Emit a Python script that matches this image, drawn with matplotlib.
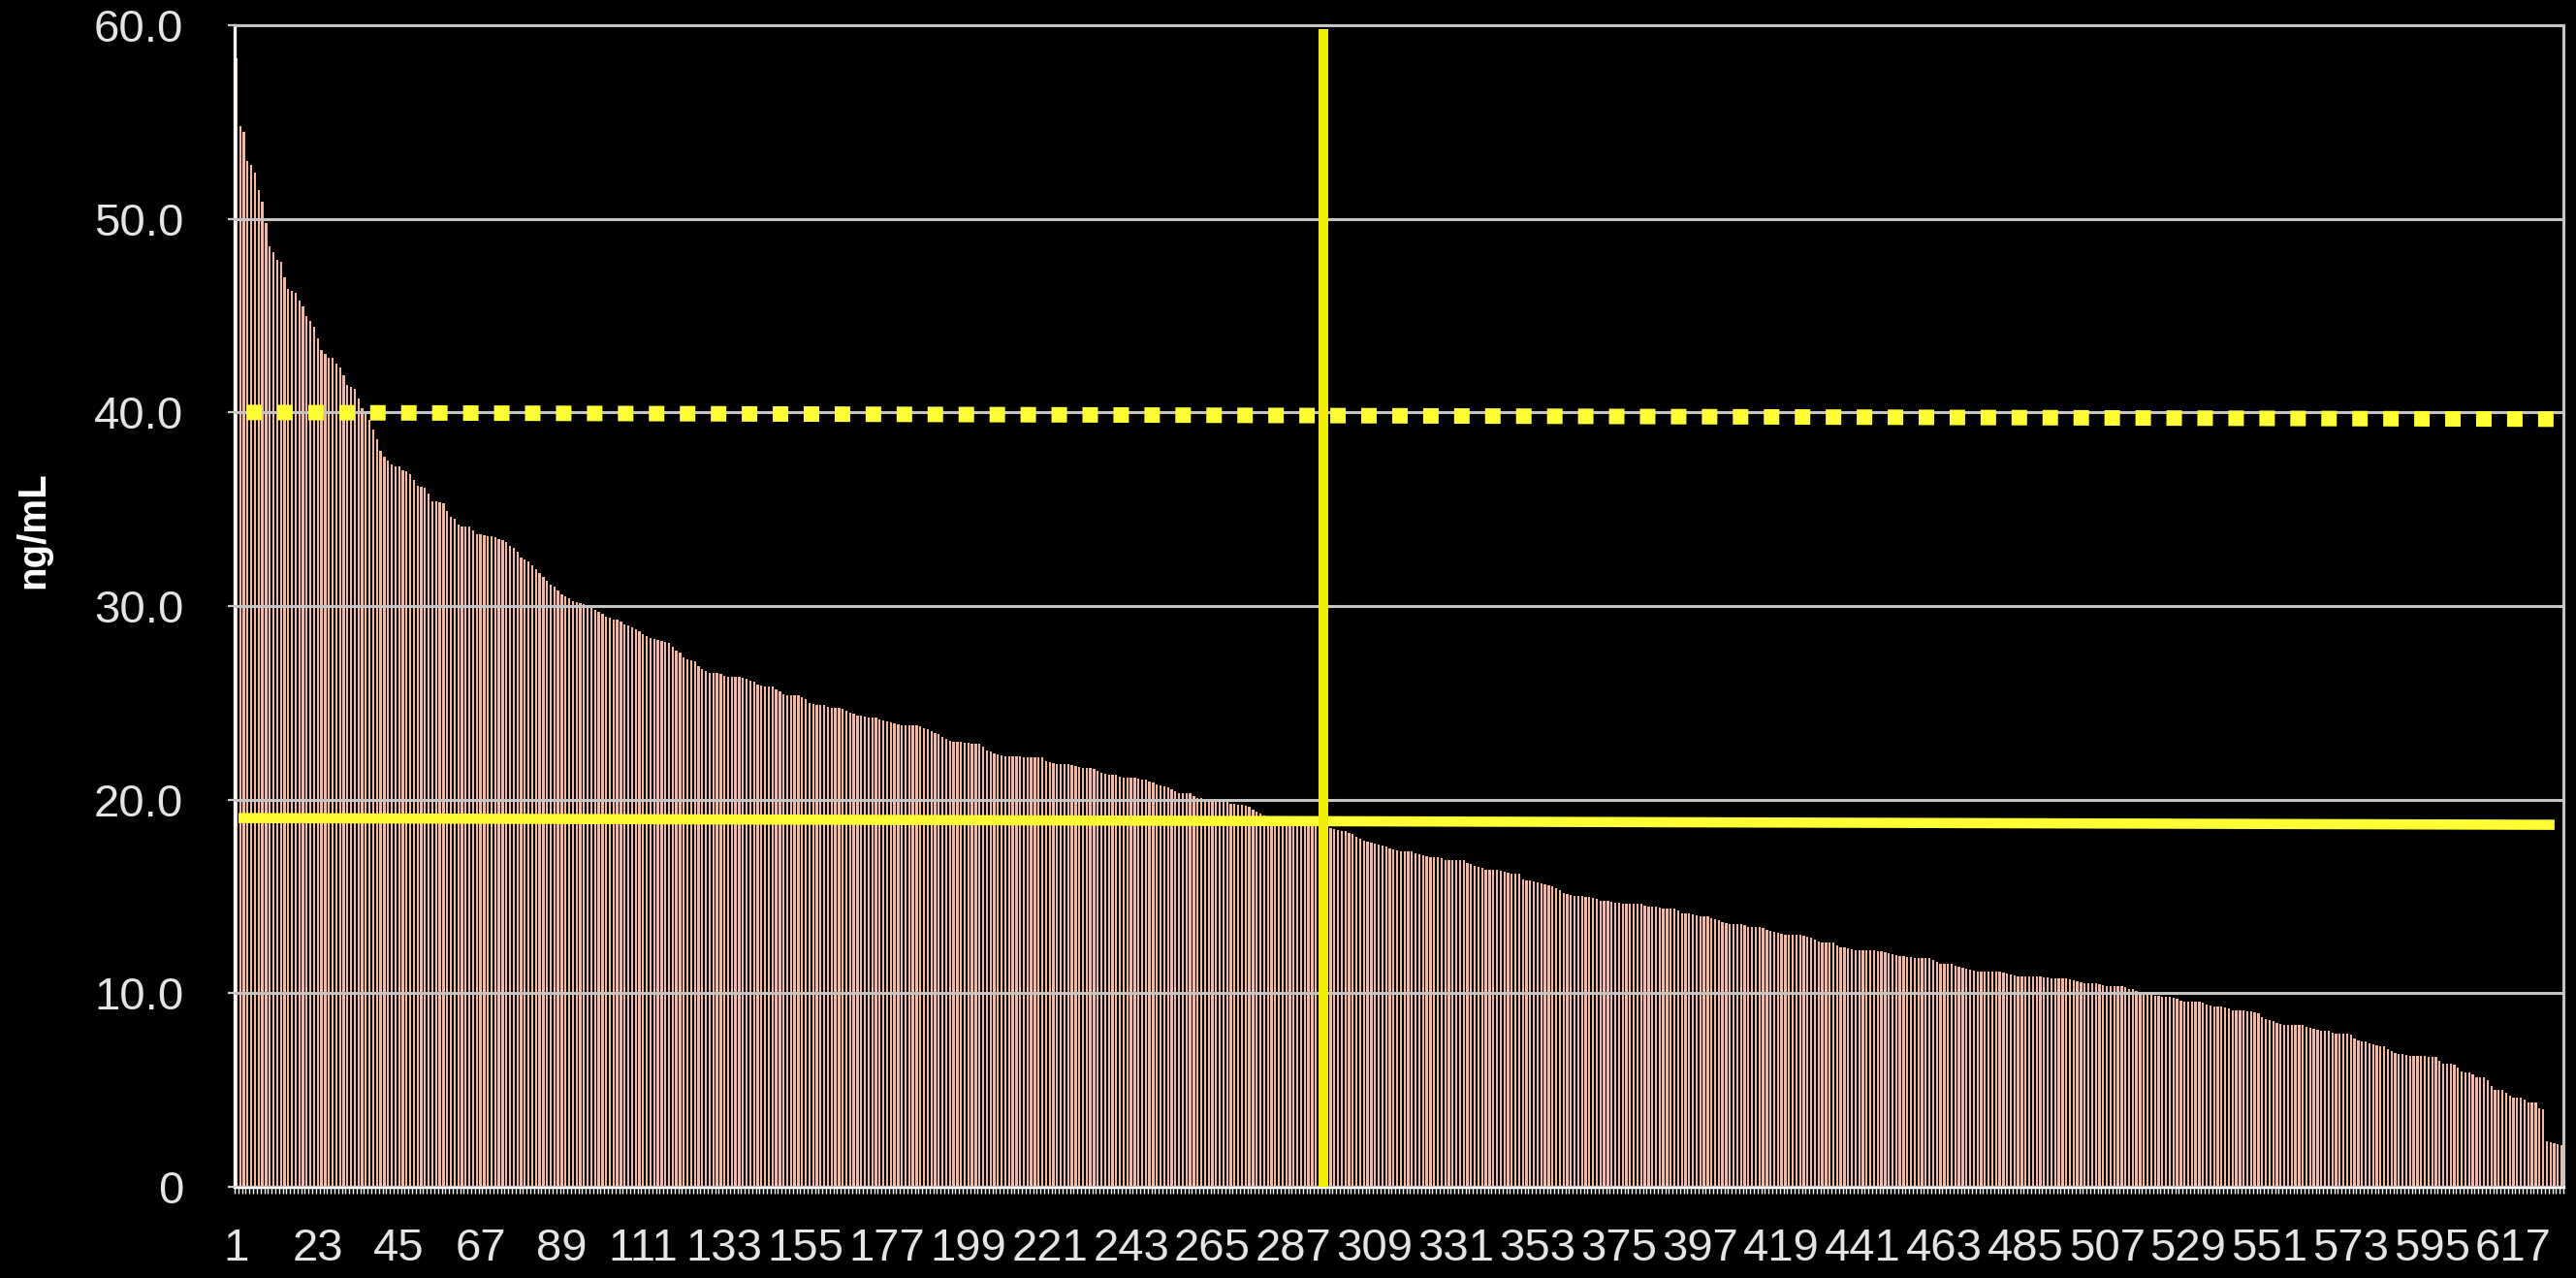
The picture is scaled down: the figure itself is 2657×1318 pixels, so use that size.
import numpy as np
import matplotlib.pyplot as plt

plt.rcParams['font.family'] = ['Liberation Sans', 'DejaVu Sans']

# concentration per sample, sorted high to low
ng_ml = [
    58.3, 54.8, 54.5, 53.0, 52.8, 52.4, 51.5, 50.9, 49.8, 48.6,
    48.3, 47.9, 47.8, 47.0, 46.4, 46.3, 46.2, 45.8, 45.5, 45.0,
    44.7, 44.4, 43.8, 43.2, 43.0, 42.8, 42.8, 42.5, 42.3, 41.9,
    41.4, 41.3, 41.2, 40.7, 40.2, 39.9, 39.6, 39.1, 38.6, 38.0,
    37.7, 37.5, 37.3, 37.2, 37.2, 37.0, 36.96, 36.8, 36.5, 36.2,
    36.15, 36.1, 35.8, 35.4, 35.4, 35.35, 35.3, 34.9, 34.6, 34.5,
    34.2, 34.1, 34.1, 34.1, 33.9, 33.7, 33.7, 33.65, 33.6, 33.6,
    33.55, 33.45, 33.4, 33.3, 33.1, 33.0, 32.8, 32.5, 32.4, 32.3,
    32.1, 31.9, 31.7, 31.5, 31.3, 31.1, 31.0, 30.8, 30.6, 30.5,
    30.4, 30.25, 30.2, 30.15, 30.1, 30.0, 29.96, 29.8, 29.7, 29.6,
    29.45, 29.4, 29.3, 29.28, 29.2, 29.07, 29.0, 28.9, 28.8, 28.7,
    28.54, 28.45, 28.37, 28.3, 28.25, 28.2, 28.15, 28.1, 27.9, 27.7,
    27.6, 27.35, 27.27, 27.2, 27.16, 26.9, 26.74, 26.62, 26.55, 26.52,
    26.52, 26.5, 26.4, 26.35, 26.35, 26.33, 26.32, 26.28, 26.24, 26.15,
    26.07, 25.96, 25.9, 25.82, 25.82, 25.82, 25.7, 25.57, 25.45, 25.4,
    25.4, 25.4, 25.4, 25.3, 25.2, 25.0, 24.95, 24.9, 24.9, 24.9,
    24.8, 24.74, 24.74, 24.74, 24.7, 24.6, 24.49, 24.42, 24.36, 24.35,
    24.28, 24.24, 24.24, 24.24, 24.15, 24.07, 24.05, 23.98, 23.94, 23.88,
    23.82, 23.82, 23.82, 23.82, 23.82, 23.8, 23.7, 23.65, 23.54, 23.45,
    23.4, 23.25, 23.16, 23.05, 22.99, 22.99, 22.99, 22.95, 22.92, 22.9,
    22.9, 22.88, 22.73, 22.55, 22.48, 22.4, 22.35, 22.28, 22.23, 22.23,
    22.23, 22.22, 22.22, 22.21, 22.21, 22.2, 22.2, 22.19, 22.18, 21.98,
    21.95, 21.9, 21.84, 21.82, 21.82, 21.82, 21.81, 21.75, 21.7, 21.65,
    21.65, 21.64, 21.6, 21.5, 21.4, 21.32, 21.27, 21.27, 21.27, 21.2,
    21.15, 21.12, 21.12, 21.12, 21.08, 21.03, 21.02, 20.95, 20.9, 20.8,
    20.73, 20.7, 20.62, 20.55, 20.45, 20.35, 20.35, 20.35, 20.34, 20.2,
    20.06, 20.06, 20.05, 20.05, 20.04, 20.04, 20.03, 20.02, 19.9, 19.78,
    19.76, 19.74, 19.72, 19.68, 19.65, 19.5, 19.4, 19.3, 19.2, 19.15,
    19.15, 19.14, 19.14, 19.13, 19.05, 19.0, 18.95, 18.9, 18.88, 18.85,
    18.82, 18.8, 18.75, 18.7, 18.65, 18.6, 18.55, 18.48, 18.45, 18.38,
    18.36, 18.3, 18.23, 18.1, 17.98, 17.9, 17.83, 17.8, 17.75, 17.69,
    17.64, 17.59, 17.5, 17.42, 17.39, 17.33, 17.31, 17.31, 17.31, 17.22,
    17.16, 17.14, 17.08, 17.03, 17.03, 17.03, 16.96, 16.9, 16.89, 16.89,
    16.89, 16.88, 16.87, 16.75, 16.66, 16.6, 16.52, 16.47, 16.4, 16.36,
    16.36, 16.36, 16.35, 16.28, 16.22, 16.2, 16.19, 16.19, 15.9, 15.81,
    15.81, 15.8, 15.75, 15.7, 15.65, 15.58, 15.52, 15.42, 15.35, 15.2,
    15.11, 15.08, 15.03, 15.01, 15.01, 15.0, 14.95, 14.9, 14.85, 14.78,
    14.76, 14.75, 14.73, 14.68, 14.65, 14.64, 14.64, 14.64, 14.64, 14.63,
    14.6, 14.5, 14.47, 14.47, 14.47, 14.42, 14.38, 14.35, 14.35, 14.35,
    14.25, 14.14, 14.12, 14.1, 14.08, 14.0, 13.97, 13.97, 13.96, 13.88,
    13.8, 13.75, 13.69, 13.64, 13.58, 13.55, 13.55, 13.55, 13.5, 13.44,
    13.42, 13.42, 13.42, 13.35, 13.27, 13.22, 13.16, 13.12, 13.06, 13.02,
    13.02, 13.02, 13.02, 13.01, 12.95, 12.9, 12.85, 12.75, 12.66, 12.63,
    12.63, 12.63, 12.62, 12.45, 12.35, 12.35, 12.33, 12.25, 12.22, 12.22,
    12.22, 12.22, 12.21, 12.2, 12.19, 12.18, 12.1, 12.05, 12.0, 11.95,
    11.92, 11.9, 11.89, 11.85, 11.8, 11.8, 11.8, 11.8, 11.8, 11.7,
    11.6, 11.52, 11.52, 11.52, 11.5, 11.42, 11.39, 11.33, 11.27, 11.22,
    11.15, 11.14, 11.14, 11.14, 11.14, 11.14, 11.13, 11.12, 11.08, 11.0,
    10.98, 10.92, 10.86, 10.85, 10.85, 10.85, 10.85, 10.85, 10.85, 10.84,
    10.8, 10.76, 10.75, 10.75, 10.75, 10.75, 10.74, 10.68, 10.62, 10.58,
    10.52, 10.5, 10.5, 10.5, 10.45, 10.4, 10.38, 10.38, 10.38, 10.38,
    10.36, 10.3, 10.22, 10.2, 10.1, 10.05, 10.05, 10.04, 9.95, 9.89,
    9.88, 9.83, 9.8, 9.8, 9.79, 9.7, 9.6, 9.55, 9.55, 9.55,
    9.55, 9.55, 9.5, 9.43, 9.38, 9.32, 9.3, 9.3, 9.29, 9.2,
    9.14, 9.13, 9.13, 9.12, 9.08, 9.05, 9.0, 8.95, 8.75, 8.68,
    8.63, 8.55, 8.47, 8.42, 8.36, 8.35, 8.35, 8.35, 8.35, 8.34,
    8.28, 8.2, 8.18, 8.12, 8.08, 8.08, 8.07, 7.95, 7.93, 7.93,
    7.93, 7.93, 7.85, 7.68, 7.56, 7.52, 7.49, 7.42, 7.37, 7.3,
    7.26, 7.25, 7.1, 7.01, 6.92, 6.84, 6.84, 6.82, 6.76, 6.74,
    6.74, 6.74, 6.74, 6.73, 6.73, 6.72, 6.5, 6.36, 6.34, 6.34,
    6.3, 6.18, 5.95, 5.91, 5.91, 5.8, 5.66, 5.66, 5.64, 5.49,
    5.2, 5.0, 5.0, 4.99, 4.85, 4.71, 4.62, 4.6, 4.59, 4.5,
    4.37, 4.37, 4.36, 4.07, 4.0, 2.34, 2.3, 2.25, 2.2, 2.15,
]
ranks = np.arange(1, len(ng_ml) + 1)
tick_ranks = list(range(1, 618, 22))
y_ticks = [0, 10, 20, 30, 40, 50, 60]
y_labels = ['0', '10.0', '20.0', '30.0', '40.0', '50.0', '60.0']

# hand-drawn reference lines on the original slide
target_level = [40.0, 39.65]   # dotted line
median_level = [19.05, 18.7]   # solid horizontal line
median_rank = 295              # solid vertical line
median_top = 59.8

fig = plt.figure(figsize=(26.57, 13.18), dpi=100, facecolor='black')
ax = fig.add_axes([242 / 2657, 1 - 1224 / 1318, 2402 / 2657, 1198 / 1318])
ax.set_facecolor('black')

ax.bar(ranks, ng_ml, width=0.6, color='#f4b89f', linewidth=0, zorder=1)

ax.set_xlim(0.5, len(ng_ml) + 0.5)
ax.set_ylim(0, 60)

# reference lines
ax.plot([3.65, 628.1], target_level, color='#ffff33', lw=11.5,
        dashes=(1, 1), dash_capstyle='butt', solid_capstyle='butt', zorder=4)
ax.plot([1.55, 628.1], median_level, color='#ffff33', lw=7.6,
        solid_capstyle='butt', zorder=4)
ax.plot([median_rank, median_rank], [0, median_top], color='#f3ee00', lw=7.2,
        solid_capstyle='butt', zorder=5)

# grid and axes styling
ax.yaxis.grid(True, color='#c4c4c4', lw=2.2, zorder=2.5)
ax.set_axisbelow(False)
for side in ['left', 'bottom']:
    ax.spines[side].set_color('white')
    ax.spines[side].set_linewidth(2.4)
for side in ['right', 'top']:
    ax.spines[side].set_color('#c4c4c4')
    ax.spines[side].set_linewidth(2.2)

ax.set_yticks(y_ticks)
ax.set_yticklabels(y_labels)
ax.tick_params(axis='y', colors='#c8c8c8', length=5, width=1.6, pad=33,
               labelsize=34, labelcolor='#e4e4e4')

ax.set_xticks(tick_ranks)
ax.set_xticklabels([str(r) for r in tick_ranks])
ax.set_xticks(np.arange(0.5, len(ng_ml) + 1, 1), minor=True)
ax.tick_params(axis='x', which='major', length=0, pad=30, labelsize=34,
               labelcolor='#e4e4e4')
ax.tick_params(axis='x', which='minor', length=5, width=1.0, colors='white')

fig.text(34 / 2657, 1 - 547 / 1318, 'ng/mL', rotation=90, fontsize=29,
         fontweight='bold', color='white', ha='center', va='center')

fig.savefig('out.png', dpi=100, facecolor='black')
